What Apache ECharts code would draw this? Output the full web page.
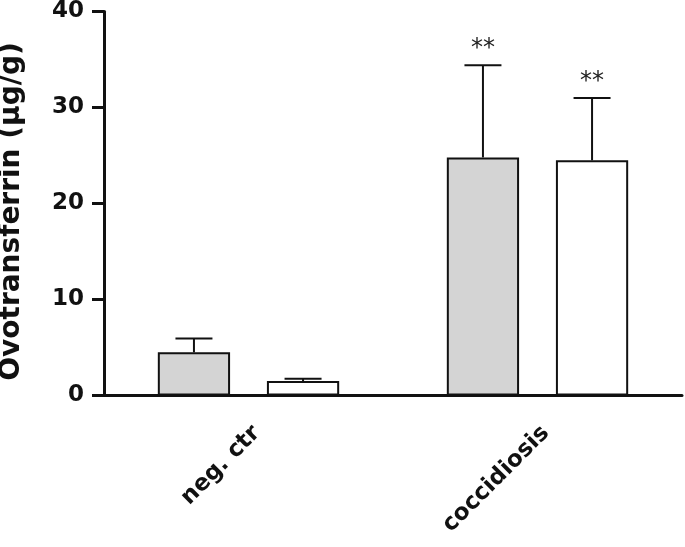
<!DOCTYPE html>
<html>
  <head>
    <meta http-equiv="Content-Type" content="text/html; charset=UTF-8">
    <title>Ovotransferrin</title>
    <style type="text/css">
      * {margin: 0; padding: 0;}
      body {background: #fff;}
    </style>
  </head>
  <body>
    <div id="chart" style="width:685px;height:547px"></div>

    <script src="https://cdn.jsdelivr.net/npm/echarts@6/dist/echarts.min.js" charset="utf-8"></script>
    <script type="text/javascript">
      // groups on the x axis
      var categories = ['neg. ctr', 'coccidiosis'];
      // grey bars (first series)
      var grayMean = [4.5, 24.8];
      var grayErr = [1.45, 9.6];
      var graySig = ['', '**'];
      // white bars (second series)
      var whiteMean = [1.5, 24.5];
      var whiteErr = [0.25, 6.5];
      var whiteSig = ['', '**'];
      var yTicks = [0, 10, 20, 30, 40];

      var font = 'DejaVu Sans';
      var barWidthFrac = 0.25, barGapFrac = 0.51;
      // centre offset of each bar inside its band
      var half = (2 * barWidthFrac + barGapFrac * barWidthFrac) / 2;
      var offsets = [-half + barWidthFrac / 2, half - barWidthFrac / 2];

      function errData(mean, err, sig) {
        var out = [];
        for (var i = 0; i < mean.length; i++) {
          out.push([i, mean[i], mean[i] + err[i], sig[i]]);
        }
        return out;
      }

      function errRender(seriesNo) {
        return function (params, api) {
          var band = api.size([1, 0])[0];
          var base = api.coord([api.value(0), api.value(1)]);
          var top = api.coord([api.value(0), api.value(2)]);
          var x = base[0] + offsets[seriesNo] * band;
          var cap = band * 0.064;
          var children = [
            {type: 'line', shape: {x1: x, y1: base[1], x2: x, y2: top[1]},
              style: {stroke: '#111', lineWidth: 2}},
            {type: 'line', shape: {x1: x - cap, y1: top[1], x2: x + cap, y2: top[1]},
              style: {stroke: '#111', lineWidth: 2}}
          ];
          var sig = api.value(3);
          if (sig) {
            children.push({type: 'text', style: {
              text: sig, x: x, y: top[1] - 4, align: 'center', verticalAlign: 'bottom',
              fontSize: 24, fontFamily: font, fill: '#222'
            }});
          }
          return {type: 'group', children: children};
        };
      }

      var chart = echarts.init(document.getElementById('chart'));
      var option = {
        animation: false,
        grid: {left: 104, right: 3, top: 11.5, bottom: 151.5, containLabel: false, outerBoundsMode: 'none'},
        xAxis: {
          type: 'category',
          data: categories,
          axisLine: {lineStyle: {color: '#111', width: 3}},
          axisTick: {alignWithLabel: true, length: 12, lineStyle: {color: '#111', width: 3}},
          axisLabel: {
            interval: 0, rotate: 45, margin: 26,
            verticalAlign: 'top',
            color: '#111', fontSize: 23, fontWeight: 'bold', fontFamily: font
          }
        },
        yAxis: {
          type: 'value',
          min: yTicks[0], max: yTicks[yTicks.length - 1], interval: 10,
          name: 'Ovotransferrin (μg/g)',
          nameLocation: 'middle',
          nameGap: 78,
          nameTextStyle: {color: '#111', fontSize: 28, fontWeight: 'bold', fontFamily: font,
            padding: [0, 16, 0, 0]},
          splitLine: {show: false},
          axisLine: {show: true, lineStyle: {color: '#111', width: 3}},
          axisTick: {show: true, length: 12, lineStyle: {color: '#111', width: 3}},
          axisLabel: {margin: 20, color: '#111', fontSize: 23, fontWeight: 'bold', fontFamily: font}
        },
        series: [
          {
            type: 'bar', data: grayMean, barWidth: '25%', barGap: '51%',
            itemStyle: {color: '#d4d4d4', borderColor: '#111', borderWidth: 2}
          },
          {
            type: 'bar', data: whiteMean, barWidth: '25%', barGap: '51%',
            itemStyle: {color: '#ffffff', borderColor: '#111', borderWidth: 2}
          },
          {
            type: 'custom', renderItem: errRender(0), data: errData(grayMean, grayErr, graySig),
            encode: {x: 0, y: [1, 2]}, z: 5, clip: false
          },
          {
            type: 'custom', renderItem: errRender(1), data: errData(whiteMean, whiteErr, whiteSig),
            encode: {x: 0, y: [1, 2]}, z: 5, clip: false
          }
        ]
      };
      chart.setOption(option);
    </script>
  </body>
</html>
